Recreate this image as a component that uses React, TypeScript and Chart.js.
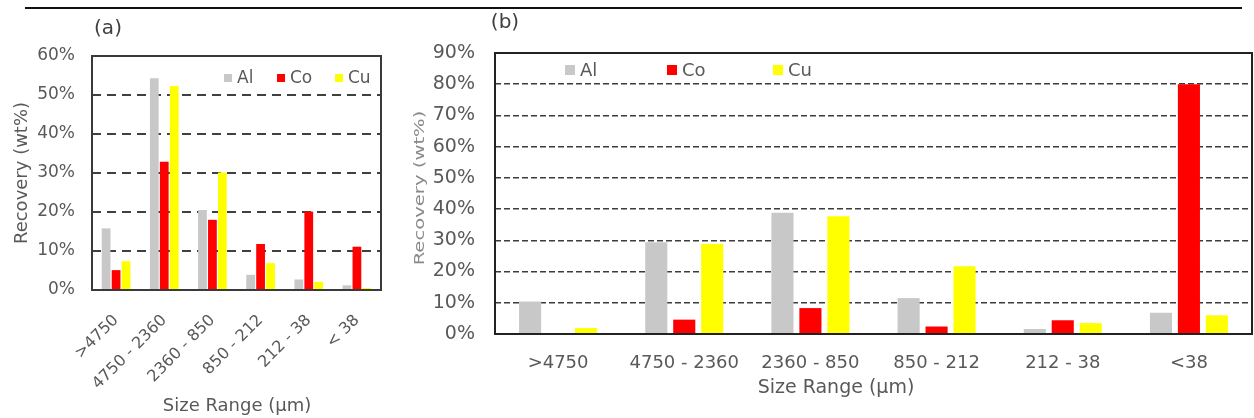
import React, { useEffect, useRef } from "react";
import { Chart, registerables } from "chart.js";

Chart.register(...registerables);

// ---------- data ----------
const seriesNames = ["Al", "Co", "Cu"];
const seriesColors = ["#c8c8c8", "#ff0000", "#ffff00"];

const categoriesA = [">4750", "4750 - 2360", "2360 - 850", "850 - 212", "212 - 38", "< 38"];
const alA = [15.8, 54.3, 20.5, 3.9, 2.7, 1.2];
const coA = [5.1, 32.9, 18.0, 11.8, 20.1, 11.1];
const cuA = [7.4, 52.3, 30.1, 6.9, 2.1, 0.5];
const yMaxA = 60;
const yStepA = 10;

const categoriesB = [">4750", "4750 - 2360", "2360 - 850", "850 - 212", "212 - 38", "<38"];
const alB = [10.4, 29.4, 38.8, 11.5, 1.6, 6.8];
const coB = [0, 4.6, 8.3, 2.4, 4.4, 80.0];
const cuB = [1.9, 28.8, 37.7, 21.7, 3.5, 6.0];
const yMaxB = 90;
const yStepB = 10;

const FONT = "'DejaVu Sans', Verdana, sans-serif";
const TICK_COLOR = "#595959";

type TextItem = {
  text: string;
  x: number;
  y: number;
  size: number;
  color: string;
  rotate?: number;
  stretch?: number;
};

type OverlayCfg = {
  borderColor: string;
  borderWidth: number;
  legendX: number[];
  legendY: number;
  legendBox: number;
  legendGap: number;
  legendSize: number;
  texts: TextItem[];
};

function makeOverlay(cfg: OverlayCfg) {
  return {
    id: "overlay",
    afterDatasetsDraw(chart: any) {
      const ctx = chart.ctx as CanvasRenderingContext2D;
      const a = chart.chartArea;
      ctx.save();
      // plot frame
      ctx.strokeStyle = cfg.borderColor;
      ctx.lineWidth = cfg.borderWidth;
      ctx.setLineDash([]);
      ctx.strokeRect(a.left, a.top, a.right - a.left, a.bottom - a.top);
      // legend
      ctx.font = `${cfg.legendSize}px ${FONT}`;
      ctx.textBaseline = "middle";
      ctx.textAlign = "left";
      chart.data.datasets.forEach((ds: any, i: number) => {
        const x = cfg.legendX[i];
        ctx.fillStyle = ds.backgroundColor;
        ctx.fillRect(x, cfg.legendY - cfg.legendBox / 2, cfg.legendBox, cfg.legendBox);
        ctx.fillStyle = TICK_COLOR;
        ctx.fillText(ds.label, x + cfg.legendBox + cfg.legendGap, cfg.legendY + 1);
      });
      // free texts (titles, panel labels)
      for (const t of cfg.texts) {
        ctx.save();
        ctx.translate(t.x, t.y);
        if (t.rotate) ctx.rotate(t.rotate);
        if (t.stretch) ctx.scale(t.stretch, 1);
        ctx.font = `${t.size}px ${FONT}`;
        ctx.fillStyle = t.color;
        ctx.textAlign = "center";
        ctx.textBaseline = "middle";
        ctx.fillText(t.text, 0, 0);
        ctx.restore();
      }
      ctx.restore();
    },
  };
}

function buildDatasets(values: number[][], catPct: number, barPct: number) {
  return values.map((v, i) => ({
    label: seriesNames[i],
    data: v,
    backgroundColor: seriesColors[i],
    borderWidth: 0,
    categoryPercentage: catPct,
    barPercentage: barPct,
  }));
}

export default function App() {
  const refA = useRef<HTMLCanvasElement>(null);
  const refB = useRef<HTMLCanvasElement>(null);

  useEffect(() => {
    const chartA = new Chart(refA.current as HTMLCanvasElement, {
      type: "bar",
      data: {
        labels: categoriesA,
        datasets: buildDatasets([alA, coA, cuA], 0.62, 0.88) as any,
      },
      options: {
        animation: false,
        responsive: false,
        devicePixelRatio: 1,
        layout: { padding: { left: 0, right: 29, top: 56, bottom: 0 } },
        plugins: { legend: { display: false }, tooltip: { enabled: false }, title: { display: false } },
        scales: {
          x: {
            grid: { display: false, drawTicks: false },
            border: { display: false },
            ticks: {
              color: TICK_COLOR,
              font: { family: FONT, size: 16 },
              minRotation: 45,
              maxRotation: 45,
              autoSkip: false,
              padding: 21,
            },
            afterFit: (s: any) => {
              s.height = 128;
            },
          },
          y: {
            min: 0,
            max: yMaxA,
            ticks: {
              stepSize: yStepA,
              color: TICK_COLOR,
              font: { family: FONT, size: 17 },
              padding: 17,
              callback: (v: any) => `${v}%`,
            },
            grid: { color: "#404040", lineWidth: 2, drawTicks: false, borderDash: [9, 6] } as any,
            border: { display: false, dash: [9, 6] },
            afterFit: (s: any) => {
              s.width = 92;
            },
          },
        },
      } as any,
      plugins: [
        makeOverlay({
          borderColor: "#3a3a3a",
          borderWidth: 2,
          legendX: [224, 277, 335],
          legendY: 78,
          legendBox: 8,
          legendGap: 5,
          legendSize: 17,
          texts: [
            { text: "(a)", x: 108, y: 29, size: 20, color: "#404040" },
            { text: "Size Range (\u00b5m)", x: 237, y: 406, size: 18, color: TICK_COLOR },
            { text: "Recovery (wt%)", x: 22, y: 173, size: 18, color: TICK_COLOR, rotate: -Math.PI / 2 },
          ],
        }) as any,
      ],
    });

    const chartB = new Chart(refB.current as HTMLCanvasElement, {
      type: "bar",
      data: {
        labels: categoriesB,
        datasets: buildDatasets([alB, coB, cuB], 0.665, 0.79) as any,
      },
      options: {
        animation: false,
        responsive: false,
        devicePixelRatio: 1,
        layout: { padding: { left: 0, right: 2, top: 53, bottom: 0 } },
        plugins: { legend: { display: false }, tooltip: { enabled: false }, title: { display: false } },
        scales: {
          x: {
            grid: { display: false, drawTicks: false },
            border: { display: false },
            ticks: {
              color: TICK_COLOR,
              font: { family: FONT, size: 18 },
              maxRotation: 0,
              autoSkip: false,
              padding: 19,
            },
            afterFit: (s: any) => {
              s.height = 84;
            },
          },
          y: {
            min: 0,
            max: yMaxB,
            ticks: {
              stepSize: yStepB,
              color: TICK_COLOR,
              font: { family: FONT, size: 19 },
              padding: 20,
              callback: (v: any) => `${v}%`,
            },
            grid: { color: "#3c3c3c", lineWidth: 1.6, drawTicks: false, borderDash: [6, 3] } as any,
            border: { display: false, dash: [6, 3] },
            afterFit: (s: any) => {
              s.width = 85;
            },
          },
        },
      } as any,
      plugins: [
        makeOverlay({
          borderColor: "#222222",
          borderWidth: 2,
          legendX: [155, 257, 363],
          legendY: 70,
          legendBox: 10,
          legendGap: 5,
          legendSize: 18,
          texts: [
            { text: "(b)", x: 95, y: 23, size: 20, color: "#404040" },
            { text: "Size Range (\u00b5m)", x: 426, y: 388, size: 19, color: TICK_COLOR },
            {
              text: "Recovery (wt%)",
              x: 10,
              y: 188,
              size: 14,
              color: "#8a8a8a",
              rotate: -Math.PI / 2,
              stretch: 1.4,
            },
          ],
        }) as any,
      ],
    });

    return () => {
      chartA.destroy();
      chartB.destroy();
    };
  }, []);

  return (
    <div
      style={{
        position: "fixed",
        left: 0,
        top: 0,
        width: 1254,
        height: 418,
        background: "#ffffff",
        overflow: "hidden",
      }}
    >
      <div style={{ position: "absolute", left: 25, top: 7, width: 1217, height: 2, background: "#111" }} />
      <canvas
        ref={refA}
        width={410}
        height={418}
        style={{ position: "absolute", left: 0, top: 0, width: 410, height: 418 }}
      />
      <canvas
        ref={refB}
        width={844}
        height={418}
        style={{ position: "absolute", left: 410, top: 0, width: 844, height: 418 }}
      />
    </div>
  );
}
